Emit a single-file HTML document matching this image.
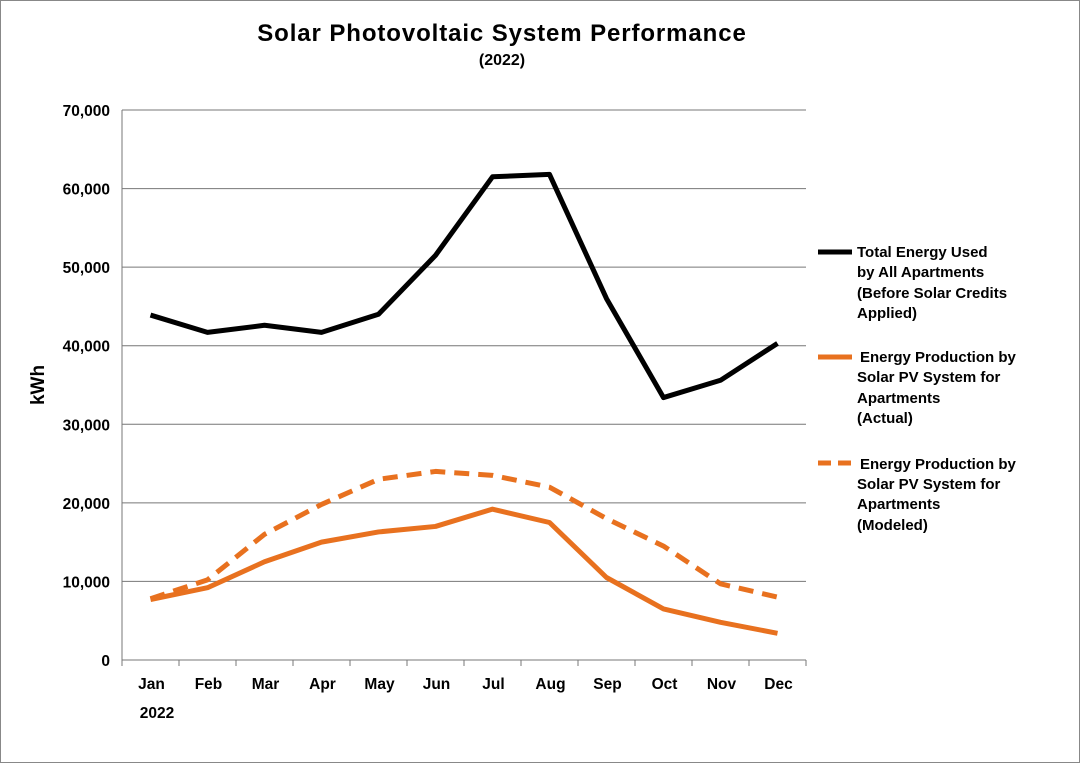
<!DOCTYPE html>
<html><head><meta charset="utf-8"><style>
body{margin:0;background:#fff;}
svg{display:block;font-family:"Liberation Sans",Arial,sans-serif;}
</style></head><body>
<svg id="c" width="1080" height="763" viewBox="0 0 1080 763">
<rect x="0.5" y="0.5" width="1079" height="762" fill="#fff" stroke="#888"/>
<text x="502" y="41" text-anchor="middle" font-size="24" font-weight="bold" letter-spacing="0.9">Solar Photovoltaic System Performance</text>
<text x="502" y="65" text-anchor="middle" font-size="16" font-weight="bold">(2022)</text>
<text transform="translate(44,385) rotate(-90)" text-anchor="middle" font-size="19" font-weight="bold">kWh</text>
<g id="grid"></g><g id="series"></g><g id="axes"></g>
<g>
<line x1="818" y1="252" x2="852" y2="252" stroke="#000" stroke-width="5"/>
<text font-size="15" font-weight="bold"><tspan x="857" y="257">Total Energy Used</tspan><tspan x="857" y="277">by All Apartments</tspan><tspan x="857" y="298">(Before Solar Credits</tspan><tspan x="857" y="318">Applied)</tspan></text>
<line x1="818" y1="357" x2="852" y2="357" stroke="#e8711f" stroke-width="5"/>
<text font-size="15" font-weight="bold"><tspan x="860" y="362">Energy Production by</tspan><tspan x="857" y="382">Solar PV System for</tspan><tspan x="857" y="403">Apartments</tspan><tspan x="857" y="423">(Actual)</tspan></text>
<line x1="818" y1="463" x2="852" y2="463" stroke="#e8711f" stroke-width="5" stroke-dasharray="13,7"/>
<text font-size="15" font-weight="bold"><tspan x="860" y="469">Energy Production by</tspan><tspan x="857" y="489">Solar PV System for</tspan><tspan x="857" y="509">Apartments</tspan><tspan x="857" y="530">(Modeled)</tspan></text>
</g>
</svg>
<script>
const months=["Jan","Feb","Mar","Apr","May","Jun","Jul","Aug","Sep","Oct","Nov","Dec"];
const totalUsed=[43900,41700,42600,41700,44000,51500,61500,61800,46000,33400,35600,40300];
const actualProd=[7700,9200,12500,15000,16300,17000,19200,17500,10500,6500,4800,3400];
const modeledProd=[7800,10200,16000,19800,23000,24000,23500,22000,18000,14500,9700,8000];
const yTicks=[0,10000,20000,30000,40000,50000,60000,70000];
const L=122,R=806,T=110,B=660,YMAX=70000;
const bw=(R-L)/months.length;
const x=i=>L+bw*(i+0.5);
const y=v=>B-(v/YMAX)*(B-T);
const NS="http://www.w3.org/2000/svg";
function mk(tag,attrs,parent){const e=document.createElementNS(NS,tag);for(const k in attrs)e.setAttribute(k,attrs[k]);document.getElementById(parent).appendChild(e);return e;}
yTicks.forEach(v=>{
  if(v>0){const g=mk('line',{x1:L,x2:R,y1:y(v),y2:y(v),stroke:'#777','stroke-width':1},'grid');
  
  }
  const t=mk('text',{x:L-12,y:y(v)+6,'text-anchor':'end','font-size':15.5,'font-weight':'bold'},'axes');
  t.textContent=v.toLocaleString('en-US');
  
  
});
const ax=mk('line',{x1:L,x2:L,y1:T,y2:B,stroke:'#777'},'axes');


const xa=mk('line',{x1:L,x2:R,y1:B,y2:B,stroke:'#777'},'axes');


for(let i=0;i<=months.length;i++){const tk=mk('line',{x1:L+bw*i,x2:L+bw*i,y1:B,y2:B+6,stroke:'#777'},'axes');

}
months.forEach((m,i)=>{const t=mk('text',{x:x(i)+1,y:689,'text-anchor':'middle','font-size':15.5,'font-weight':'bold'},'axes');t.textContent=m;

});
const yr=mk('text',{x:157,y:718,'text-anchor':'middle','font-size':15.5,'font-weight':'bold'},'axes');yr.textContent='2022';


function line(arr,color,dash,name){
  const p=mk('polyline',{points:arr.map((v,i)=>x(i)+','+y(v)).join(' '),fill:'none',stroke:color,'stroke-width':5,'stroke-linejoin':'round','stroke-dasharray':dash||'none'},'series');
  
  
}
line(modeledProd,'#e8711f','15,9','modeled-production-line');
line(actualProd,'#e8711f','','actual-production-line');
line(totalUsed,'#000','','total-energy-line');
</script>
</body></html>
